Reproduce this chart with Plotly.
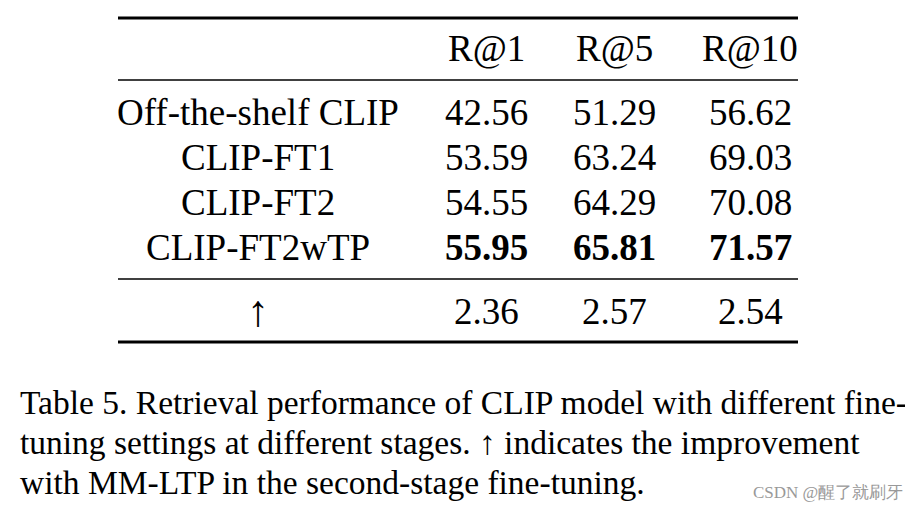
import plotly.graph_objects as go

headers = ["R@1", "R@5", "R@10"]
methods = ["Off-the-shelf CLIP", "CLIP-FT1", "CLIP-FT2", "CLIP-FT2wTP"]
r1 = ["42.56", "53.59", "54.55", "55.95"]
r5 = ["51.29", "63.24", "64.29", "65.81"]
r10 = ["56.62", "69.03", "70.08", "71.57"]
improve_label = "↑"
improve = ["2.36", "2.57", "2.54"]
caption = [
    "Table 5. Retrieval performance of CLIP model with different fine-",
    "tuning settings at different stages. ↑ indicates the improvement",
    "with MM-LTP in the second-stage fine-tuning.",
]
watermark = "CSDN @醒了就刷牙"

W, H = 913, 507
OFF = 8  # page body margin
FONT = "Liberation Serif"
col_x = [258, 486, 614, 750]
row_y = [112, 157, 202, 247]

fig = go.Figure()
ann = []
def t(x, y, s, size=37, anchor="center", color="black"):
    ann.append(dict(x=x - OFF, y=y - OFF, xref="x", yref="y", text=s, showarrow=False,
                    xanchor=anchor, yanchor="middle",
                    font=dict(family=FONT, size=size, color=color)))

for i, h in enumerate(headers):
    t(col_x[i + 1], 48, h)
for j, m in enumerate(methods):
    bold = j == len(methods) - 1
    vals = [m, r1[j], r5[j], r10[j]]
    for i, v in enumerate(vals):
        s = f"<b>{v}</b>" if bold and i > 0 else v
        t(col_x[i], row_y[j], s)
t(col_x[0], 311, improve_label, size=44)
for i, v in enumerate(improve):
    t(col_x[i + 1], 311, v)
for k, line in enumerate(caption):
    t(18, 402 + 40 * k, line, size=33.5, anchor="left")
t(905, 492, watermark, size=17, anchor="right", color="#999999")

shapes = []
for y, w in [(18, 3), (80, 1.5), (279, 1.5), (342, 3)]:
    shapes.append(dict(type="line", xref="x", yref="y", x0=118 - OFF, x1=798 - OFF,
                       y0=y - OFF, y1=y - OFF, line=dict(color="black", width=w)))

fig.update_layout(
    width=W, height=H, margin=dict(l=0, r=0, t=0, b=0),
    paper_bgcolor="white", plot_bgcolor="white",
    xaxis=dict(range=[0, W], visible=False, fixedrange=True),
    yaxis=dict(range=[H, 0], visible=False, fixedrange=True),
    annotations=ann, shapes=shapes, showlegend=False,
)
fig.write_html("out.html", config={"displayModeBar": False})
